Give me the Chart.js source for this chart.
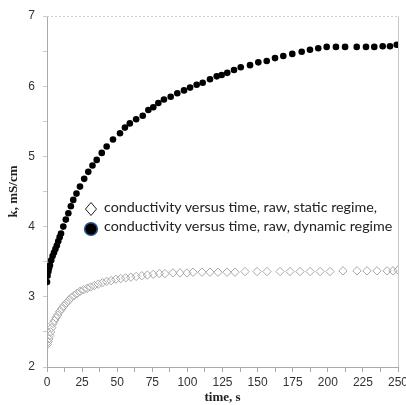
<!DOCTYPE html>
<html>
<head>
<meta charset="utf-8">
<script src="https://cdn.jsdelivr.net/npm/chart.js@4.4.1/dist/chart.umd.min.js"></script>
<style>
  html, body { margin: 0; padding: 0; background: #fff; }
  #wrap { position: relative; width: 406px; height: 405px; }
  .leg { position: absolute; font-family: Lato, "Open Sans", sans-serif; font-size: 14.3px; color: #222; white-space: nowrap; }
  .mark { position: absolute; }
</style>
</head>
<body>
<div id="wrap">
  <canvas id="chart_conductivity" width="406" height="405"></canvas>
  <svg class="mark" style="left:84px;top:201px" width="14" height="16"><polygon points="7,1.5 12.5,8 7,14.5 1.5,8" fill="#fff" stroke="#222" stroke-width="1"/></svg>
  <div class="leg" style="left:104px;top:198px">conductivity versus time, raw, static regime,</div>
  <svg class="mark" style="left:83px;top:221px" width="16" height="16"><circle cx="8" cy="8" r="6.3" fill="#000" stroke="#2d4f82" stroke-width="1.6"/></svg>
  <div class="leg" style="left:104px;top:217px">conductivity versus time, raw, dynamic regime</div>
</div>
<script>
// time (s) and conductivity (mS/cm), dynamic regime
var dynamicTime = [0, 0.4, 1, 1.5, 2.1, 3, 4, 5, 6, 7,
  8, 9, 10, 11.6, 13.4, 15.2, 17, 18.7, 21, 23.5,
  26.5, 29.4, 32.4, 35.4, 39, 42.5, 47, 52, 55.5, 59,
  63.5, 68.2, 72.2, 75.7, 79.3, 83.3, 88.1, 92.8, 97.6, 101.9,
  106.6, 110.9, 116.1, 120.9, 124.4, 128.4, 133.2, 138, 144.6, 150.5,
  156.5, 162.4, 168.3, 174.7, 181.4, 187.3, 193.2, 199.2, 205.8, 212.3,
  220.6, 227.2, 233.1, 239.1, 244.3, 249.1];
var dynamicK = [3.21, 3.30, 3.36, 3.41, 3.45, 3.52, 3.58, 3.63, 3.68, 3.73,
  3.79, 3.85, 3.90, 4.00, 4.10, 4.19, 4.29, 4.38, 4.47, 4.57,
  4.68, 4.78, 4.87, 4.95, 5.05, 5.14, 5.24, 5.33, 5.41, 5.47,
  5.53, 5.58, 5.66, 5.70, 5.76, 5.81, 5.85, 5.90, 5.94, 5.98,
  6.02, 6.05, 6.10, 6.14, 6.16, 6.19, 6.23, 6.27, 6.30, 6.34,
  6.36, 6.40, 6.43, 6.46, 6.49, 6.52, 6.54, 6.56, 6.56, 6.56,
  6.56, 6.56, 6.56, 6.57, 6.57, 6.59];

// time (s) and conductivity (mS/cm), static regime
var staticTime = [0.3, 0.8, 1.3, 1.9, 2.6, 3.4, 4.3, 5.3, 6.4, 7.6,
  9, 10.5, 12, 13.7, 15.5, 17.4, 19.4, 21.5, 23.7, 26,
  28.5, 31, 33.7, 36.5, 39.5, 42.5, 45.7, 49, 52.5, 56,
  59.7, 63.5, 67.5, 71.5, 75.7, 80, 84, 89.7, 94.7, 99.7,
  104, 110.4, 116.1, 121.8, 128.2, 133.9, 141, 149.6, 156.7, 166,
  173.1, 180.2, 187.4, 194.5, 201.6, 210.8, 220.8, 227.9, 235, 242.2,
  246.4, 250];
var staticK = [2.32, 2.36, 2.40, 2.45, 2.50, 2.56, 2.62, 2.66, 2.70, 2.74,
  2.79, 2.83, 2.87, 2.91, 2.95, 2.99, 3.02, 3.05, 3.08, 3.10,
  3.12, 3.14, 3.16, 3.18, 3.20, 3.22, 3.23, 3.25, 3.26, 3.27,
  3.28, 3.29, 3.30, 3.31, 3.32, 3.33, 3.33, 3.34, 3.34, 3.34,
  3.35, 3.35, 3.35, 3.35, 3.35, 3.35, 3.36, 3.36, 3.36, 3.36,
  3.36, 3.36, 3.36, 3.36, 3.36, 3.37, 3.37, 3.37, 3.37, 3.37,
  3.37, 3.38];

var xTickLabels = [0, 25, 50, 75, 100, 125, 150, 175, 200, 225, 250];
var yTickLabels = [2, 3, 4, 5, 6, 7];

function toPoints(xs, ys) {
  let pts = [];
  for (let i = 0; i < xs.length; i++) {
    pts.push({ x: xs[i], y: ys[i] });
  }
  return pts;
}

// light frame on top and right of the plot
var framePlugin = {
  id: 'frame',
  beforeDatasetsDraw: function(chart) {
    var a = chart.chartArea, ctx = chart.ctx;
    ctx.save();
    ctx.strokeStyle = '#d0d0d0';
    ctx.lineWidth = 1;
    ctx.setLineDash([2, 2]);
    ctx.beginPath();
    ctx.moveTo(a.left, a.top + 0.5);
    ctx.lineTo(a.right, a.top + 0.5);
    ctx.stroke();
    ctx.setLineDash([]);
    ctx.strokeStyle = '#c8c8c8';
    ctx.beginPath();
    ctx.moveTo(a.right + 0.5, a.top);
    ctx.lineTo(a.right + 0.5, a.bottom);
    ctx.stroke();
    ctx.restore();
  }
};

var tickFont = { family: '"Liberation Sans", Arial, sans-serif', size: 12 };
var titleFont = { family: '"Liberation Serif", "Times New Roman", serif', size: 13, weight: 'bold' };

new Chart(document.getElementById('chart_conductivity'), {
  type: 'scatter',
  data: {
    datasets: [{
      label: 'conductivity versus time, raw, static regime,',
      data: toPoints(staticTime, staticK),
      pointStyle: 'rectRot',
      pointRadius: 4.2,
      pointBackgroundColor: 'rgba(255,255,255,0)',
      pointBorderColor: '#a8a8a8',
      pointBorderWidth: 1
    }, {
      label: 'conductivity versus time, raw, dynamic regime',
      data: toPoints(dynamicTime, dynamicK),
      pointStyle: 'circle',
      pointRadius: 3.3,
      pointBackgroundColor: '#000',
      pointBorderColor: '#000',
      pointBorderWidth: 0
    }]
  },
  options: {
    responsive: false,
    animation: false,
    layout: { padding: { top: 16, right: 8, left: 0, bottom: 0 } },
    plugins: {
      legend: { display: false },
      tooltip: { enabled: false }
    },
    scales: {
      x: {
        type: 'linear',
        min: 0,
        max: 250,
        afterFit: function(scale) {
          scale.height = 38;
          scale.paddingRight = 0;
          scale.paddingLeft = 0;
        },
        afterBuildTicks: function(scale) {
          let t = [];
          for (let i = 0; i < xTickLabels.length; i++) {
            t.push({ value: xTickLabels[i] });
            if (i < xTickLabels.length - 1) t.push({ value: xTickLabels[i] + 12.5 });
          }
          scale.ticks = t;
        },
        ticks: {
          autoSkip: false,
          maxRotation: 0,
          padding: 3,
          color: '#333',
          font: tickFont,
          callback: function(v) { return xTickLabels.indexOf(v) >= 0 ? v : ''; }
        },
        grid: { drawOnChartArea: false, tickLength: 5, color: '#aaa' },
        border: { color: '#aaa' },
        title: { display: true, text: 'time, s', color: '#222', font: titleFont, padding: { top: 0, bottom: 0 } }
      },
      y: {
        min: 2,
        max: 7,
        afterFit: function(scale) { scale.width = 47; },
        afterBuildTicks: function(scale) {
          let t = [];
          for (let i = 0; i < yTickLabels.length; i++) {
            t.push({ value: yTickLabels[i] });
            if (i < yTickLabels.length - 1) t.push({ value: yTickLabels[i] + 0.5 });
          }
          scale.ticks = t;
        },
        ticks: {
          autoSkip: false,
          padding: 8,
          color: '#333',
          font: tickFont,
          callback: function(v) { return yTickLabels.indexOf(v) >= 0 ? v : ''; }
        },
        grid: { drawOnChartArea: false, tickLength: 4, color: '#ccc' },
        border: { color: '#aaa' },
        title: { display: true, text: 'k, mS/cm', color: '#222', font: titleFont, padding: { top: 6, bottom: 0 } }
      }
    }
  },
  plugins: [framePlugin]
});
</script>
</body>
</html>
